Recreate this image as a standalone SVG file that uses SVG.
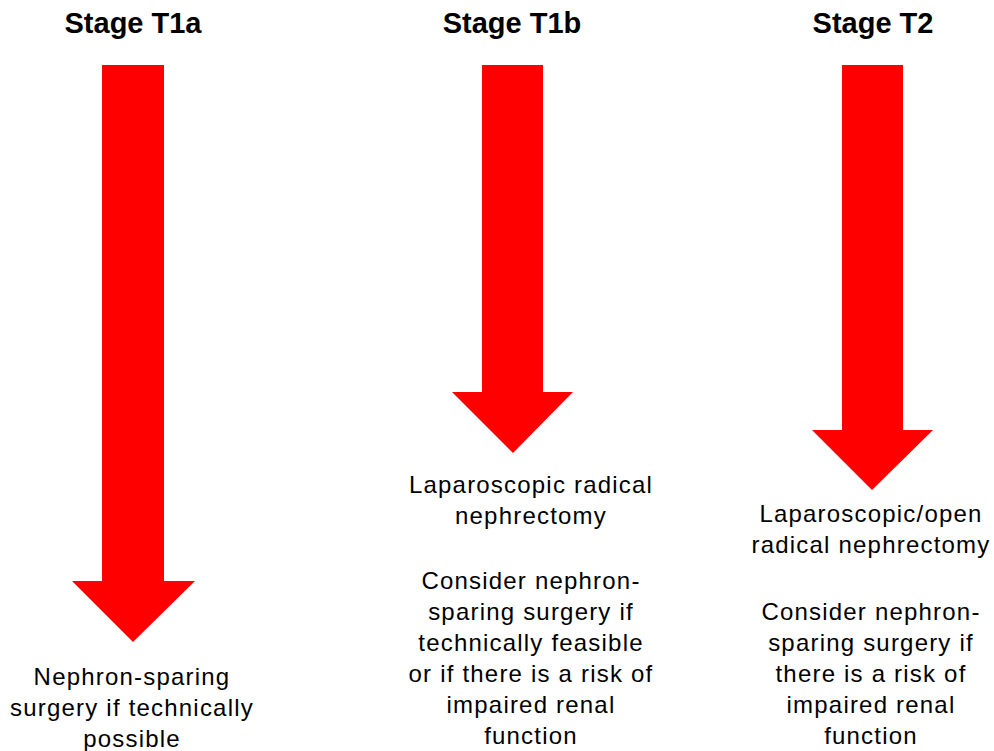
<svg xmlns="http://www.w3.org/2000/svg" width="994" height="751" viewBox="0 0 994 751">
<style>
.bg{fill:#ffffff}
.arrow{fill:#ff0000}
.title{font-family:"Liberation Sans",Arial,sans-serif;font-weight:bold;font-size:29px;fill:#000;text-anchor:middle}
.body{font-family:"Liberation Sans",Arial,sans-serif;font-size:24px;letter-spacing:1.2px;fill:#000;text-anchor:middle}
</style>
<rect class="bg" x="0" y="0" width="994" height="751"/>
<g id="connectors">
<polygon class="arrow" points="102,65 164,65 164,581 195,581 133,642 72,581 102,581"/>
<polygon class="arrow" points="482,65 543,65 543,392 573,392 513,453 452,392 482,392"/>
<polygon class="arrow" points="842,65 903,65 903,430 933,430 872,490 812,430 842,430"/>
</g>
<g id="stage-t1a">
<text class="title" x="133" y="33">Stage T1a</text>
</g>
<g id="stage-t1b">
<text class="title" x="512" y="33">Stage T1b</text>
</g>
<g id="stage-t2">
<text class="title" x="873" y="33">Stage T2</text>
</g>
<g id="t1a-treatment">
<text class="body" x="132" y="685">Nephron-sparing</text>
<text class="body" x="132" y="716">surgery if technically</text>
<text class="body" x="132" y="747">possible</text>
</g>
<g id="t1b-treatment">
<text class="body" x="531" y="493">Laparoscopic radical</text>
<text class="body" x="531" y="524">nephrectomy</text>
<text class="body" x="531" y="589">Consider nephron-</text>
<text class="body" x="531" y="620">sparing surgery if</text>
<text class="body" x="531" y="651">technically feasible</text>
<text class="body" x="531" y="682">or if there is a risk of</text>
<text class="body" x="531" y="713">impaired renal</text>
<text class="body" x="531" y="744">function</text>
</g>
<g id="t2-treatment">
<text class="body" x="871" y="522">Laparoscopic/open</text>
<text class="body" x="871" y="553">radical nephrectomy</text>
<text class="body" x="871" y="620">Consider nephron-</text>
<text class="body" x="871" y="651">sparing surgery if</text>
<text class="body" x="871" y="682">there is a risk of</text>
<text class="body" x="871" y="713">impaired renal</text>
<text class="body" x="871" y="744">function</text>
</g>
</svg>
